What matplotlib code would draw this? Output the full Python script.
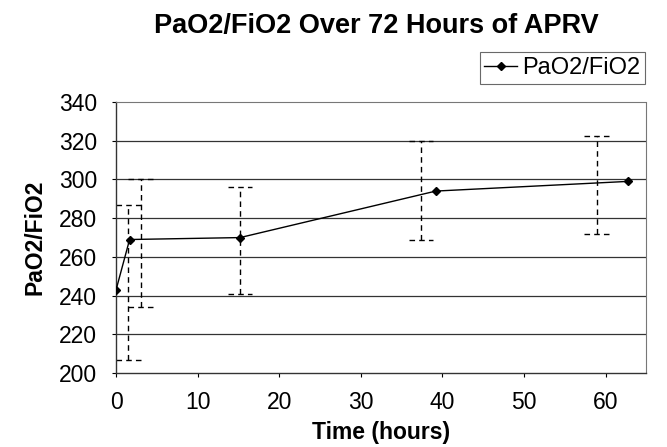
import matplotlib
matplotlib.use("Agg")
import matplotlib.pyplot as plt

plt.rcParams['font.family'] = ['Liberation Sans', 'DejaVu Sans']

# Data
time_hours = [0, 1.66, 15.2, 39.2, 62.8]
pf_ratio = [243, 269, 270, 294, 299]

err_x = [1.5, 3.0, 15.2, 37.4, 58.9]
err_low = [207, 234, 241, 269, 272]
err_high = [287, 300, 296, 320, 322.5]

x_ticks = [0, 10, 20, 30, 40, 50, 60]
y_ticks = [200, 220, 240, 260, 280, 300, 320, 340]

fig = plt.figure(figsize=(6.67, 4.47), dpi=100)
ax = fig.add_axes([0.174, 0.165, 0.795, 0.607])

# gridlines
for yv in y_ticks[1:-1]:
    ax.axhline(yv, color='#333333', linewidth=0.9, zorder=1)

# error bars (dashed)
cap = 1.5
dash = (0, (4, 3))
ax.vlines(err_x, err_low, err_high, colors='black', linestyles=dash, linewidth=1.0, zorder=2)
ax.hlines(err_low, [x - cap for x in err_x], [x + cap for x in err_x], colors='black',
          linestyles=dash, linewidth=1.0, zorder=2)
ax.hlines(err_high, [x - cap for x in err_x], [x + cap for x in err_x], colors='black',
          linestyles=dash, linewidth=1.0, zorder=2)

ax.plot(time_hours, pf_ratio, color='black', linewidth=1.0, marker='D', markersize=4.5,
        label='PaO2/FiO2', zorder=3)

ax.set_xlim(0, 65)
ax.set_ylim(200, 340)
ax.set_xticks(x_ticks)
ax.set_yticks(y_ticks)
ax.tick_params(axis='both', labelsize=16.5, direction='out', length=3, width=0.8)
ax.tick_params(axis='y', pad=10.5)
ax.tick_params(axis='x', pad=10)

for side in ['top', 'right']:
    ax.spines[side].set_linestyle((0, (1, 1)))
    ax.spines[side].set_color('#777777')
    ax.spines[side].set_linewidth(0.8)
for side in ['left', 'bottom']:
    ax.spines[side].set_color('#333333')
    ax.spines[side].set_linewidth(1.0)

ax.set_xlabel('Time (hours)', fontsize=16.5, fontweight='bold')
ax.set_ylabel('PaO2/FiO2', fontsize=16.5, fontweight='bold')
ax.xaxis.set_label_coords(0.5, -0.176)
ax.yaxis.set_label_coords(-0.131, 0.5)

fig.text(0.564, 0.9255, 'PaO2/FiO2 Over 72 Hours of APRV', ha='center', va='baseline',
         fontsize=19.5, fontweight='bold')

leg = fig.legend(loc='upper right', bbox_to_anchor=(0.967, 0.8826), fontsize=17,
                 frameon=True, fancybox=False, handlelength=1.4, handletextpad=0.2,
                 borderpad=0.2, borderaxespad=0)
leg.get_frame().set_edgecolor('#444444')
leg.get_frame().set_linewidth(0.8)

fig.savefig('out.png', dpi=100)
